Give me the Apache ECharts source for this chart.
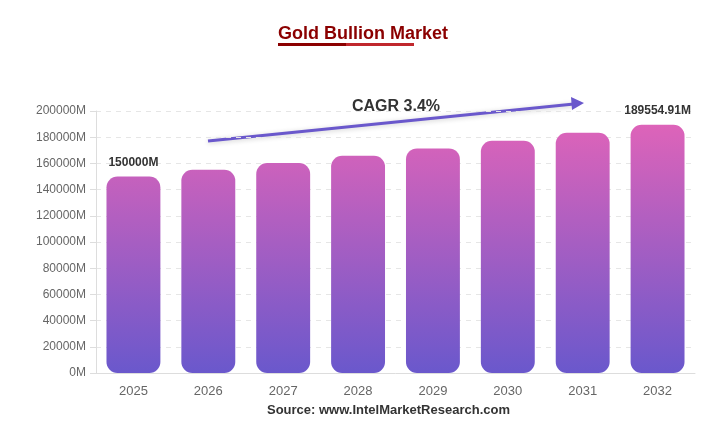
<!DOCTYPE html>
<html>
<head>
<meta charset="utf-8">
<script src="https://cdn.jsdelivr.net/npm/echarts@6/dist/echarts.min.js"></script>
<style>
  html, body { margin: 0; padding: 0; background: #fff; }
  #chart { width: 714px; height: 435px; }
</style>
</head>
<body>
<div id="chart"></div>
<script>
const years = ['2025', '2026', '2027', '2028', '2029', '2030', '2031', '2032']
const marketSize = [150000, 155100, 160373, 165826, 171464, 177294, 183322, 189554.91]
const yTicks = { min: 0, max: 200000, interval: 20000 }
const cagrText = 'CAGR 3.4%'

const myEcharts = echarts.init(document.getElementById('chart'))

// gradient spans the whole plot height, so short bars look less pink at the top
const barColor = new echarts.graphic.LinearGradient(0, 111, 0, 373, [
  { offset: 0, color: '#e464b8' },
  { offset: 1, color: '#6a58cc' }
], true)

const option = {
  animation: false,
  title: {
    text: 'Gold Bullion Market',
    left: 273,
    top: 20,
    textStyle: { color: '#8b0000', fontSize: 18, fontWeight: 'bold', fontFamily: 'Arial, Liberation Sans, sans-serif' }
  },
  grid: { left: 96, right: 19, top: 111, bottom: 62 },
  xAxis: {
    type: 'category',
    data: years,
    axisLine: { lineStyle: { color: '#ddd' } },
    axisTick: { show: false },
    axisLabel: { color: '#666', fontSize: 13, margin: 12, fontFamily: 'Arial, Liberation Sans, sans-serif' }
  },
  yAxis: {
    type: 'value',
    min: yTicks.min,
    max: yTicks.max,
    interval: yTicks.interval,
    axisLine: { show: true, lineStyle: { color: '#ddd' } },
    axisTick: { show: true, length: 6, lineStyle: { color: '#ddd' } },
    axisLabel: {
      color: '#666', fontSize: 12, margin: 10,
      fontFamily: 'Arial, Liberation Sans, sans-serif',
      formatter: v => v + 'M'
    },
    splitLine: { lineStyle: { color: '#e6e6e6', type: [5, 5] } }
  },
  series: [{
    type: 'bar',
    data: marketSize.map((v, i) => ({
      value: v,
      label: {
        show: i === 0 || i === marketSize.length - 1,
        position: 'top',
        distance: 8,
        formatter: p => p.value + 'M',
        color: '#333',
        fontSize: 12,
        fontWeight: 'bold',
        fontFamily: 'Arial, Liberation Sans, sans-serif'
      }
    })),
    barWidth: '72%',
    itemStyle: { color: barColor, borderRadius: 11 }
  }],
  graphic: [
    // title underline, two tones
    { type: 'rect', shape: { x: 278, y: 43, width: 68, height: 3 }, style: { fill: '#8b0000' } },
    { type: 'rect', shape: { x: 346, y: 43, width: 68, height: 3 }, style: { fill: '#c0282d' } },
    // CAGR arrow
    {
      type: 'line',
      shape: { x1: 208, y1: 141, x2: 574, y2: 104 },
      style: { stroke: '#6a58cc', lineWidth: 3, shadowBlur: 5, shadowColor: 'rgba(0,0,0,0.2)', shadowOffsetY: 1 }
    },
    {
      type: 'polygon',
      shape: { points: [[584, 103], [571, 97], [572, 110]] },
      style: { fill: '#6a58cc' }
    },
    {
      type: 'text',
      left: 352, top: 99,
      style: { text: cagrText, fill: '#333', font: 'bold 16px Arial, Liberation Sans, sans-serif' }
    },
    {
      type: 'text',
      left: 267, top: 404,
      style: { text: 'Source: www.IntelMarketResearch.com', fill: '#333', font: 'bold 13px Arial, Liberation Sans, sans-serif' }
    }
  ]
}
myEcharts.setOption(option)
</script>
</body>
</html>
